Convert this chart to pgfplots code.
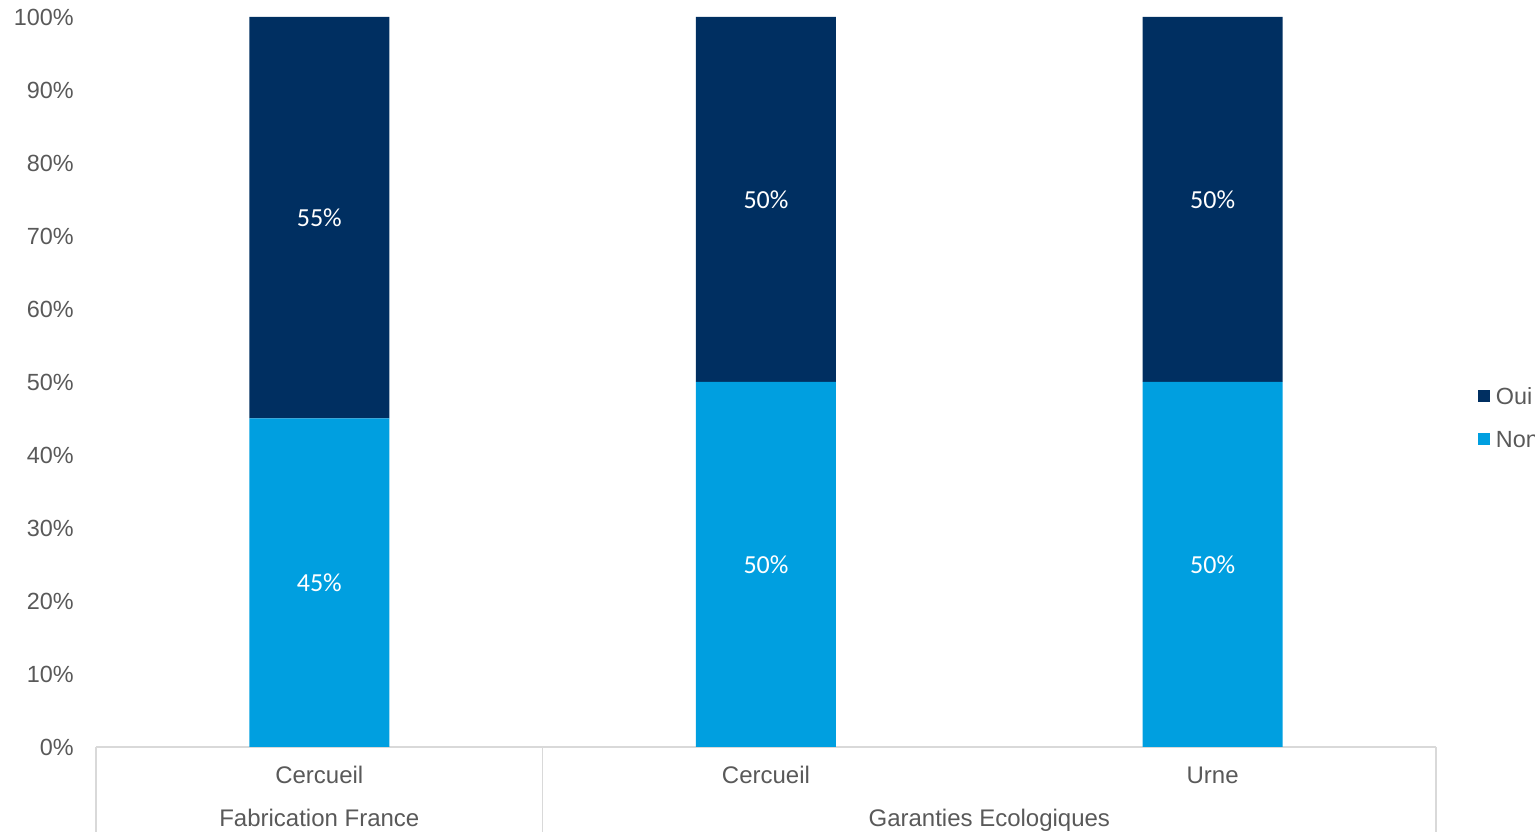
\documentclass[border=0pt]{standalone}
\usepackage{pgfplots}
\pgfplotsset{compat=1.18}
\usepackage{fontspec}
\setmainfont{Liberation Sans}
\newfontfamily\carlito{Carlito}
\definecolor{oui}{HTML}{002F61}
\definecolor{non}{HTML}{009FE0}
\definecolor{txt}{HTML}{595959}
\definecolor{axl}{HTML}{D9D9D9}
\pgfplotsset{sqlegend/.style={legend image code/.code={\fill[##1,draw=none] (0pt,-3.7pt) rectangle (12pt,8.3pt);}}}
\begin{document}
\begin{tikzpicture}
\useasboundingbox (0,0) rectangle (1535pt,832pt);
\clip (0,0) rectangle (1535pt,832pt);
\begin{axis}[
  at={(96pt,85pt)}, anchor=south west,
  scale only axis, width=1340pt, height=730pt,
  xmin=-0.5, xmax=2.5, ymin=0, ymax=100,
  ybar stacked, bar width=140pt,
  sqlegend,
  axis x line=bottom, axis y line=left,
  x axis line style={-, draw=axl, line width=1.5pt},
  y axis line style={draw=none},
  xtick={0,1,2}, xticklabels={Cercueil,Cercueil,Urne},
  extra x ticks={0,1.5}, extra x tick labels={Fabrication France,Garanties Ecologiques},
  extra x tick style={tick label style={yshift=-43pt}},
  minor xtick={-0.5,0.5,2.5},
  ytick={0,10,...,100},
  yticklabel={\pgfmathprintnumber{\tick}\%},
  /pgf/number format/assume math mode=true,
  major tick length=0pt, minor tick length=85pt, tick align=outside,
  minor tick style={draw=axl, line width=1.5pt},
  xticklabel style={anchor=base, inner sep=0pt, yshift=-37pt, font=\fontsize{24}{28}\selectfont},
  yticklabel style={anchor=east, inner sep=0pt, xshift=-22pt, font=\fontsize{23.4}{27}\selectfont},
  tick label style={text=txt},
  legend cell align=left,
  legend style={at={(1.0313,0.448)}, anchor=west, draw=none, fill=none, inner sep=0pt, outer sep=0pt,
    row sep=23pt, column sep=6pt, font=\fontsize{23.4}{27}\selectfont, text=txt,
    nodes={inner sep=0pt, text height=16pt, text depth=4pt}},
  reverse legend,
]
\addplot[fill=non, draw=none, sqlegend] coordinates {(0,45) (1,50) (2,50)};
\addlegendentry{Non}
\addplot[fill=oui, draw=none, sqlegend] coordinates {(0,55) (1,50) (2,50)};
\addlegendentry{Oui}
\end{axis}
\begin{axis}[
  at={(96pt,85pt)}, anchor=south west,
  scale only axis, width=1340pt, height=730pt,
  xmin=-0.5, xmax=2.5, ymin=0, ymax=100, hide axis]
\addplot[draw=none, mark=none, nodes near coords, point meta=explicit symbolic,
  every node near coord/.append style={anchor=center, inner sep=0pt, text=white, font=\carlito\fontsize{26}{30}\selectfont}]
  coordinates {(0,72.5) [55\%] (1,75) [50\%] (2,75) [50\%] (0,22.5) [45\%] (1,25) [50\%] (2,25) [50\%]};
\end{axis}
\end{tikzpicture}
\end{document}
